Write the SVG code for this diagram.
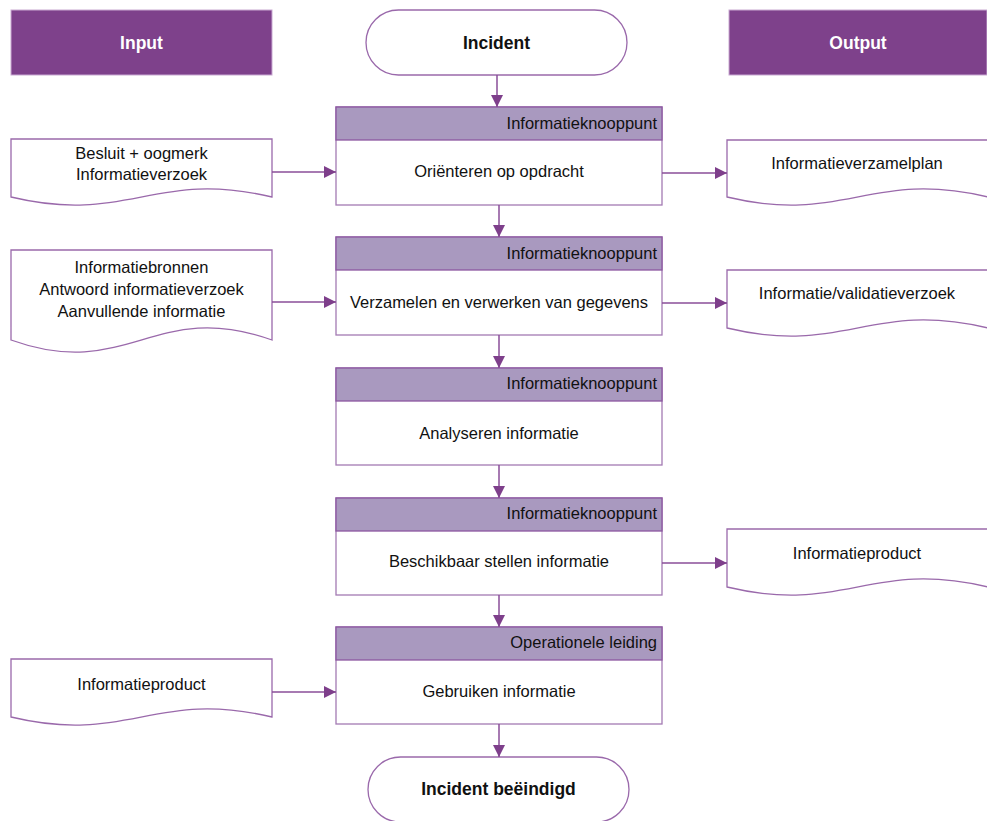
<svg xmlns="http://www.w3.org/2000/svg" width="987" height="821" viewBox="0 0 987 821">
<style>
text{font-family:"Liberation Sans",Arial,sans-serif;fill:#111;}
.t{font-size:16.5px;}
.c{text-anchor:middle;}
.r{text-anchor:end;}
.b{font-size:17.5px;font-weight:bold;}
.w{fill:#fff;}
.hdr{fill:#7E418B;stroke:#C9A9D2;stroke-width:1;}
.sub{fill:#A999BF;stroke:#8C56A0;stroke-width:1.3;}
.body{fill:#fff;stroke:#A37AB3;stroke-width:1.3;}
.doc{fill:#fff;stroke:#9A69AB;stroke-width:1.3;}
.term{fill:#fff;stroke:#9A69AB;stroke-width:1.3;}
.con{fill:none;stroke:#8A4E99;stroke-width:1.5;marker-end:url(#ah);}
</style>
<defs>
<marker id="ah" viewBox="0 0 10 10" refX="10" refY="5" markerUnits="userSpaceOnUse" markerWidth="13" markerHeight="12" orient="auto">
<path d="M0,0 L10,5 L0,10 Z" fill="#7E3F8B"/>
</marker>
</defs>

<g id="input-header">
<rect class="hdr" x="11" y="10" width="261" height="65"/>
<text class="b w c" x="141.5" y="48.5">Input</text>
</g>
<g id="output-header">
<rect class="hdr" x="729" y="10" width="258" height="65"/>
<text class="b w c" x="858" y="48.5">Output</text>
</g>

<g id="incident">
<rect class="term" x="366" y="10" width="261" height="65" rx="32.5"/>
<text class="b c" x="496.5" y="48.5">Incident</text>
</g>

<g id="p1">
<rect class="body" x="336" y="107" width="326" height="98"/>
<rect class="sub" x="336" y="107" width="326" height="33"/>
<text class="t r" x="657" y="129">Informatieknooppunt</text>
<text class="t c" x="499" y="177">Oriënteren op opdracht</text>
</g>
<g id="p2">
<rect class="body" x="336" y="237" width="326" height="98"/>
<rect class="sub" x="336" y="237" width="326" height="33"/>
<text class="t r" x="657" y="259">Informatieknooppunt</text>
<text class="t c" x="499" y="308">Verzamelen en verwerken van gegevens</text>
</g>
<g id="p3">
<rect class="body" x="336" y="368" width="326" height="97"/>
<rect class="sub" x="336" y="368" width="326" height="33"/>
<text class="t r" x="657" y="389">Informatieknooppunt</text>
<text class="t c" x="499" y="439">Analyseren informatie</text>
</g>
<g id="p4">
<rect class="body" x="336" y="498" width="326" height="97"/>
<rect class="sub" x="336" y="498" width="326" height="33"/>
<text class="t r" x="657" y="519">Informatieknooppunt</text>
<text class="t c" x="499" y="567">Beschikbaar stellen informatie</text>
</g>
<g id="p5">
<rect class="body" x="336" y="627" width="326" height="97"/>
<rect class="sub" x="336" y="627" width="326" height="33"/>
<text class="t r" x="657" y="648">Operationele leiding</text>
<text class="t c" x="499" y="697">Gebruiken informatie</text>
</g>

<g id="end">
<rect class="term" x="368" y="757" width="261" height="65" rx="32.5"/>
<text class="b c" x="498.5" y="795">Incident beëindigd</text>
</g>

<g id="in1">
<path class="doc" d="M11,139 H272 V197 C154,169 128,225 11,197 Z"/>
<text class="t c" x="141.5" y="159">Besluit + oogmerk</text>
<text class="t c" x="141.5" y="180">Informatieverzoek</text>
</g>
<g id="in2">
<path class="doc" d="M11,250 H272 V340 C154,298 128,382 11,340 Z"/>
<text class="t c" x="141.5" y="273">Informatiebronnen</text>
<text class="t c" x="141.5" y="295">Antwoord informatieverzoek</text>
<text class="t c" x="141.5" y="317">Aanvullende informatie</text>
</g>
<g id="in3">
<path class="doc" d="M11,659 H272 V717 C154,689 128,745 11,717 Z"/>
<text class="t c" x="141.5" y="690">Informatieproduct</text>
</g>

<g id="out1">
<path class="doc" d="M727,140 H988 V197 C870,169 844,225 727,197 Z"/>
<text class="t c" x="857" y="169">Informatieverzamelplan</text>
</g>
<g id="out2">
<path class="doc" d="M727,270 H988 V328 C870,300 844,356 727,328 Z"/>
<text class="t c" x="857" y="299">Informatie/validatieverzoek</text>
</g>
<g id="out3">
<path class="doc" d="M727,529 H988 V587 C870,559 844,615 727,587 Z"/>
<text class="t c" x="857" y="559">Informatieproduct</text>
</g>

<g id="connectors">
<path class="con" d="M497,75 V107"/>
<path class="con" d="M499,205 V237"/>
<path class="con" d="M499,335 V368"/>
<path class="con" d="M499,465 V498"/>
<path class="con" d="M499,595 V627"/>
<path class="con" d="M499,724 V757"/>
<path class="con" d="M272,172 H336"/>
<path class="con" d="M272,302 H336"/>
<path class="con" d="M272,692 H336"/>
<path class="con" d="M662,173 H727"/>
<path class="con" d="M662,303 H727"/>
<path class="con" d="M662,563 H727"/>
</g>
</svg>
